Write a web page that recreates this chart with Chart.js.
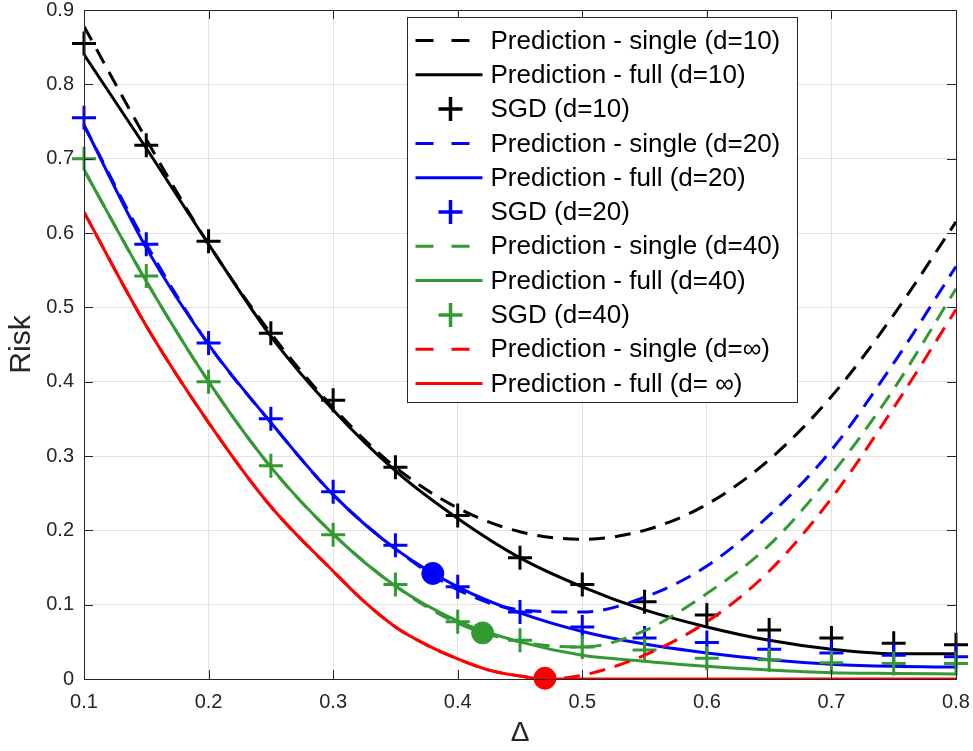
<!DOCTYPE html>
<html>
<head>
<meta charset="utf-8">
<title>Risk vs Delta</title>
<script src="https://cdn.jsdelivr.net/npm/chart.js@4.4.1/dist/chart.umd.min.js"></script>
<style>
  html, body { margin: 0; padding: 0; background: #fff; }
  #wrap { width: 973px; height: 751px; }
</style>
</head>
<body>
<div id="wrap"><canvas id="risk-chart" width="973" height="751"></canvas></div>
<script>
// Delta grid used by the d=10/20/40 curves, the d=inf curves get the kink at 0.47
const delta = [0.1, 0.15, 0.2, 0.25, 0.3, 0.35, 0.4, 0.45, 0.5, 0.55, 0.6, 0.65, 0.7, 0.75, 0.8];
const deltaInf = [0.1, 0.15, 0.2, 0.25, 0.3, 0.325, 0.35, 0.375, 0.4, 0.425, 0.45, 0.47, 0.5, 0.55, 0.6, 0.65, 0.7, 0.75, 0.8];

// d = 10
const single10 = [0.878, 0.726, 0.585, 0.465, 0.365, 0.285, 0.23, 0.198, 0.188, 0.2, 0.235, 0.295, 0.38, 0.49, 0.615];
const full10 = [0.84, 0.714, 0.585, 0.461, 0.362, 0.28, 0.216, 0.163, 0.124, 0.093, 0.07, 0.052, 0.04, 0.034, 0.034];
const sgd10 = [0.855, 0.718, 0.589, 0.465, 0.375, 0.285, 0.22, 0.163, 0.127, 0.104, 0.086, 0.066, 0.055, 0.048, 0.046];

// d = 20
const single20 = [0.745, 0.585, 0.45, 0.345, 0.248, 0.175, 0.12, 0.093, 0.09, 0.11, 0.152, 0.22, 0.308, 0.425, 0.555];
const full20 = [0.745, 0.58, 0.45, 0.345, 0.248, 0.175, 0.124, 0.089, 0.064, 0.047, 0.035, 0.026, 0.02, 0.017, 0.016];
const sgd20 = [0.755, 0.585, 0.452, 0.35, 0.252, 0.18, 0.124, 0.09, 0.07, 0.055, 0.049, 0.04, 0.035, 0.032, 0.03];

// d = 40
const single40 = [0.685, 0.535, 0.4, 0.285, 0.195, 0.125, 0.075, 0.05, 0.043, 0.065, 0.115, 0.18, 0.275, 0.39, 0.525];
const full40 = [0.685, 0.535, 0.4, 0.285, 0.195, 0.125, 0.078, 0.05, 0.032, 0.024, 0.017, 0.012, 0.0085, 0.0075, 0.0067];
const sgd40 = [0.7, 0.542, 0.4, 0.287, 0.194, 0.127, 0.077, 0.052, 0.043, 0.039, 0.028, 0.026, 0.022, 0.021, 0.021];

// d = infinity
const singleInf = [0.628, 0.475, 0.345, 0.232, 0.145, 0.104, 0.07, 0.046, 0.027, 0.012, 0.004, 0, 0.005, 0.032, 0.077, 0.145, 0.243, 0.365, 0.497];
const fullInf = [0.628, 0.475, 0.345, 0.232, 0.145, 0.104, 0.07, 0.046, 0.027, 0.012, 0.004, 0, 0, 0, 0, 0, 0, 0, 0];

// big dots (blue, green, red)
const optDelta = [0.38, 0.42, 0.47];
const optRisk = [0.142, 0.062, 0.001];

const xTicks = [0.1, 0.2, 0.3, 0.4, 0.5, 0.6, 0.7, 0.8];
const yTicks = [0, 0.1, 0.2, 0.3, 0.4, 0.5, 0.6, 0.7, 0.8, 0.9];

const BLACK = '#000000';
const BLUE = '#0000ff';
const GREEN = '#339933';
const RED = '#ff0000';
const AXIS = '#262626';

Chart.defaults.font.family = "'Liberation Sans', Arial, sans-serif";

function pts(xs, ys) {
    return xs.map((x, i) => ({x: x, y: ys[i]}));
}

function dashed(label, xs, ys, color) {
    return {
        label: label, data: pts(xs, ys), kind: 'dash',
        borderColor: color, borderWidth: 3, borderDash: [16, 10],
        pointRadius: 0, cubicInterpolationMode: 'monotone', fill: false
    };
}

function solid(label, xs, ys, color) {
    return {
        label: label, data: pts(xs, ys), kind: 'solid',
        borderColor: color, borderWidth: 3,
        pointRadius: 0, cubicInterpolationMode: 'monotone', fill: false
    };
}

function sgd(label, xs, ys, color) {
    return {
        label: label, data: pts(xs, ys), kind: 'plus',
        showLine: false, pointStyle: 'cross', pointRadius: 12,
        pointBorderWidth: 3, borderColor: color, backgroundColor: color,
        clip: false
    };
}

let datasets = [
    dashed('Prediction - single (d=10)', delta, single10, BLACK),
    solid('Prediction - full (d=10)', delta, full10, BLACK),
    sgd('SGD (d=10)', delta, sgd10, BLACK),
    dashed('Prediction - single (d=20)', delta, single20, BLUE),
    solid('Prediction - full (d=20)', delta, full20, BLUE),
    sgd('SGD (d=20)', delta, sgd20, BLUE),
    dashed('Prediction - single (d=40)', delta, single40, GREEN),
    solid('Prediction - full (d=40)', delta, full40, GREEN),
    sgd('SGD (d=40)', delta, sgd40, GREEN),
    dashed('Prediction - single (d=\u221E)', deltaInf, singleInf, RED),
    solid('Prediction - full (d= \u221E)', deltaInf, fullInf, RED)
];
// later series sit on top, like in the original plot
datasets.forEach((d, i) => { d.order = 20 - i; });

datasets.push({
    label: '', kind: 'none', order: -1,
    data: pts(optDelta, optRisk),
    showLine: false, pointStyle: 'circle', pointRadius: 11, pointBorderWidth: 1,
    pointBackgroundColor: [BLUE, GREEN, RED], pointBorderColor: [BLUE, GREEN, RED],
    clip: false
});

// box, inward tick marks and the legend, drawn after the data
const axesBox = {
    id: 'axesBox',
    afterDraw(chart) {
        const ctx = chart.ctx;
        const a = chart.chartArea;
        const xs = chart.scales.x;
        const ys = chart.scales.y;
        ctx.save();
        ctx.strokeStyle = AXIS;
        ctx.lineWidth = 1;
        ctx.setLineDash([]);
        ctx.beginPath();
        xTicks.forEach(v => {
            const p = Math.round(xs.getPixelForValue(v)) + 0.5;
            ctx.moveTo(p, a.bottom); ctx.lineTo(p, a.bottom - 9);
            ctx.moveTo(p, a.top); ctx.lineTo(p, a.top + 9);
        });
        yTicks.forEach(v => {
            const p = Math.round(ys.getPixelForValue(v)) + 0.5;
            ctx.moveTo(a.left, p); ctx.lineTo(a.left + 9, p);
            ctx.moveTo(a.right, p); ctx.lineTo(a.right - 9, p);
        });
        ctx.stroke();
        ctx.strokeRect(Math.round(a.left) + 0.5, Math.round(a.top) + 0.5,
            Math.round(a.right - a.left), Math.round(a.bottom - a.top));
        ctx.restore();
    }
};

const boxLegend = {
    id: 'boxLegend',
    afterDraw(chart) {
        const ctx = chart.ctx;
        const a = chart.chartArea;
        const items = chart.data.datasets.filter(d => d.kind !== 'none');
        const w = 390;
        const h = 385;
        const left = Math.round(a.right - 159 - w) + 0.5;
        const top = Math.round(a.top + 7) + 0.5;
        const rowH = 34.3;
        ctx.save();
        ctx.fillStyle = '#ffffff';
        ctx.fillRect(left, top, w, h);
        ctx.strokeStyle = AXIS;
        ctx.lineWidth = 1;
        ctx.strokeRect(left, top, w, h);
        ctx.font = "26px 'Liberation Sans', Arial, sans-serif";
        ctx.textBaseline = 'middle';
        ctx.textAlign = 'left';
        items.forEach((d, i) => {
            const y = top + 23 + i * rowH;
            const color = d.borderColor;
            ctx.strokeStyle = color;
            ctx.lineWidth = 3;
            ctx.beginPath();
            if (d.kind === 'dash') {
                ctx.moveTo(left + 8, y); ctx.lineTo(left + 26, y);
                ctx.moveTo(left + 44, y); ctx.lineTo(left + 62, y);
            } else if (d.kind === 'solid') {
                ctx.moveTo(left + 8, y); ctx.lineTo(left + 75, y);
            } else {
                const cx = left + 43;
                ctx.lineWidth = 3.5;
                ctx.moveTo(cx - 12, y); ctx.lineTo(cx + 12, y);
                ctx.moveTo(cx, y - 12); ctx.lineTo(cx, y + 12);
            }
            ctx.stroke();
            ctx.fillStyle = '#000000';
            ctx.fillText(d.label, left + 83, y + 1);
        });
        ctx.restore();
    }
};

const riskCanvas = document.getElementById('risk-chart');

let riskChart = new Chart(riskCanvas, {
    type: 'line',
    data: { datasets: datasets },
    options: {
        responsive: false,
        devicePixelRatio: 1,
        animation: false,
        events: [],
        layout: { autoPadding: false, padding: { top: 10, right: 17, left: 0, bottom: 0 } },
        plugins: {
            legend: { display: false },
            tooltip: { enabled: false }
        },
        scales: {
            x: {
                type: 'linear',
                min: 0.1,
                max: 0.8,
                afterFit(scale) {
                    scale.height = 72;
                    scale.paddingLeft = 0;
                    scale.paddingRight = 0;
                },
                afterBuildTicks(scale) { scale.ticks = xTicks.map(v => ({value: v})); },
                ticks: {
                    color: AXIS,
                    font: { size: 20 },
                    padding: 11,
                    maxRotation: 0,
                    callback: v => v.toFixed(1)
                },
                grid: { color: '#e3e3e3', drawTicks: false },
                border: { color: AXIS, width: 1 },
                title: {
                    display: true,
                    text: '\u0394',
                    color: AXIS,
                    font: { size: 28 },
                    padding: { top: 0, bottom: 1 }
                }
            },
            y: {
                type: 'linear',
                min: 0,
                max: 0.9,
                afterFit(scale) {
                    scale.width = 84;
                    scale.paddingTop = 0;
                    scale.paddingBottom = 0;
                },
                afterBuildTicks(scale) { scale.ticks = yTicks.map(v => ({value: v})); },
                ticks: {
                    color: AXIS,
                    font: { size: 20 },
                    padding: 10,
                    callback: v => (v === 0 ? '0' : v.toFixed(1))
                },
                grid: { color: '#e3e3e3', drawTicks: false },
                border: { color: AXIS, width: 1 },
                title: {
                    display: true,
                    text: 'Risk',
                    color: AXIS,
                    font: { size: 30 },
                    padding: { top: 4, bottom: 0 }
                }
            }
        }
    },
    plugins: [axesBox, boxLegend]
});
</script>
</body>
</html>
